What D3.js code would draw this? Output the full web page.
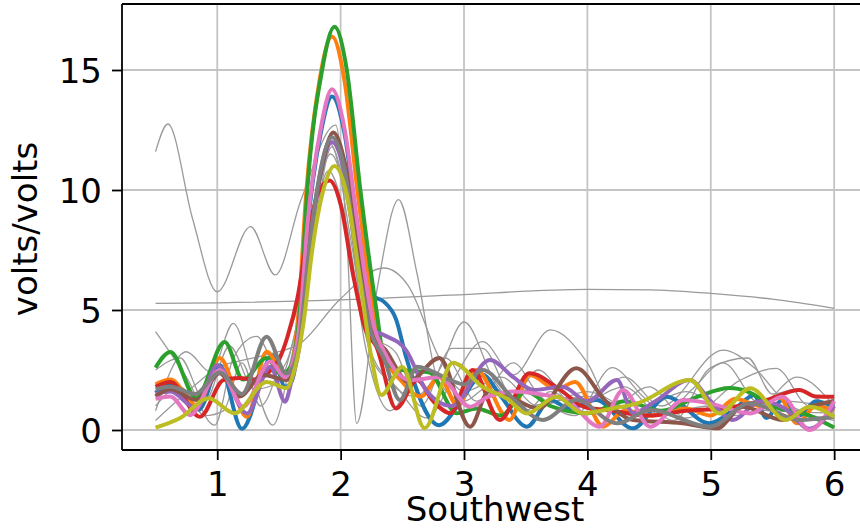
<!DOCTYPE html>
<html lang="en">
<head>
<meta charset="UTF-8">
<title>Southwest</title>
<script src="https://d3js.org/d3.v7.min.js"></script>
<style>
    body { margin: 0; background: #fff; }
    text { font-family: "DejaVu Sans", sans-serif; }
</style>
</head>
<body>
<div id="chart"></div>
<script>
    // tick values
    const xTicks = [1, 2, 3, 4, 5, 6];
    const yTicks = [0, 5, 10, 15];
    const xLabel = "Southwest";
    const yLabel = "volts/volts";

    // thin gray traces, [x, y] knots
    const thin1 = [[0.5,11.6],[0.6,12.75],[0.8,8.8],[1.0,5.76],[1.27,8.47],[1.47,6.46],[1.68,9.6],[1.96,12.7],[2.05,8.0],[2.13,0.28],[2.3,6.0],[2.47,9.6],[2.62,6.5],[2.79,2.08],[3.0,1.2],[3.2,1.8],[3.5,1.0],[4.0,1.4],[4.5,0.6],[5.0,1.0],[5.5,0.8],[6.0,0.7]];
    const thin2 = [[0.5,5.28],[1.0,5.3],[2.0,5.42],[2.89,5.62],[4.0,5.86],[4.5,5.84],[5.0,5.69],[5.5,5.45],[6.0,5.07]];
    const thin3 = [[0.5,0.4],[0.85,2.0],[1.0,2.6],[1.2,2.9],[1.45,3.2],[1.67,3.6],[1.99,5.42],[2.35,6.75],[2.55,6.0],[2.8,3.0],[3.0,1.6],[3.3,2.2],[3.6,1.0],[4.0,1.6],[4.4,0.8],[4.8,1.6],[5.2,0.6],[5.6,1.2],[6.0,0.9]];
    const thin4 = [[0.5,4.1],[0.75,2.2],[0.98,0.2],[1.13,3.0],[1.32,3.9],[1.5,2.5],[1.62,3.8],[1.75,8.0],[1.92,11.5],[2.05,9.5],[2.2,4.0],[2.4,2.0],[2.6,1.4],[2.8,2.5],[3.0,4.5],[3.25,2.0],[3.5,0.8],[3.7,1.6],[3.95,1.0],[4.3,2.2],[4.6,1.0],[5.1,3.33],[5.35,2.6],[5.6,1.2],[6.0,0.4]];
    const thin5 = [[0.5,0.8],[0.75,3.26],[0.95,2.4],[1.13,4.44],[1.3,2.0],[1.45,0.2],[1.6,3.0],[1.75,7.0],[1.93,11.8],[2.08,8.0],[2.25,3.0],[2.45,1.8],[2.7,0.5],[2.9,2.0],[3.15,3.68],[3.4,2.3],[3.7,4.17],[4.0,2.8],[4.2,1.0],[4.5,1.8],[4.8,0.5],[5.24,2.08],[5.53,2.57],[5.8,1.0],[6.0,1.3]];
    const thin6 = [[0.5,1.0],[0.7,1.8],[0.9,0.6],[1.05,0.8],[1.2,2.8],[1.35,1.0],[1.55,3.5],[1.7,6.0],[1.9,10.8],[2.05,8.5],[2.2,3.5],[2.4,0.8],[2.6,2.2],[2.85,3.0],[3.1,1.2],[3.4,2.8],[3.6,1.5],[3.9,0.6],[4.2,2.6],[4.45,1.4],[4.7,0.4],[5.0,2.6],[5.3,3.0],[5.5,1.5],[5.7,1.7],[6.0,0.6]];
    const thin7 = [[0.5,2.5],[0.7,3.0],[0.9,1.2],[1.1,3.5],[1.3,1.7],[1.5,2.0],[1.65,4.5],[1.9,12.0],[2.08,9.0],[2.25,4.0],[2.45,3.2],[2.65,1.0],[2.9,3.4],[3.15,3.4],[3.4,1.4],[3.6,2.5],[3.9,1.0],[4.3,1.8],[4.6,0.6],[4.85,1.7],[5.1,2.8],[5.4,1.1],[5.7,2.2],[6.0,1.0]];

    // thick coloured traces
    const blue = [[0.5,1.55],[0.62,1.9],[0.85,0.85],[1.02,2.7],[1.2,0.05],[1.45,3.1],[1.55,1.8],[1.6,2.0],[1.67,4.2],[1.73,8.3],[1.84,12.4],[1.93,13.9],[2.03,12.4],[2.14,8.3],[2.26,5.6],[2.35,5.35],[2.45,4.6],[2.53,3.05],[2.8,0.2],[2.95,1.0],[3.15,2.3],[3.3,1.4],[3.51,0.14],[3.7,1.25],[3.85,0.9],[4.07,1.25],[4.37,0.07],[4.64,1.39],[4.99,0.28],[5.2,0.9],[5.35,1.45],[5.45,0.5],[5.58,1.25],[5.72,0.6],[5.85,1.2],[6.0,0.97]];
    const orange = [[0.5,1.9],[0.62,2.1],[0.84,1.0],[1.02,3.0],[1.24,0.55],[1.4,3.26],[1.55,2.3],[1.59,2.4],[1.66,5.0],[1.72,9.8],[1.83,14.6],[1.93,16.4],[2.03,14.6],[2.14,9.8],[2.27,4.9],[2.35,3.2],[2.5,2.0],[2.65,1.4],[2.8,2.2],[2.95,1.0],[3.1,2.5],[3.37,0.42],[3.53,2.3],[3.75,1.7],[3.9,2.0],[4.13,0.14],[4.3,0.8],[4.5,0.6],[4.8,0.9],[5.0,0.6],[5.2,1.3],[5.4,1.0],[5.55,1.4],[5.7,0.28],[5.85,1.0],[6.0,0.8]];
    const green = [[0.5,2.6],[0.62,3.25],[0.83,1.33],[1.06,3.67],[1.21,2.1],[1.4,3.0],[1.52,2.3],[1.6,2.7],[1.67,5.0],[1.73,10.0],[1.85,15.0],[1.95,16.8],[2.05,15.0],[2.16,10.0],[2.29,5.0],[2.36,2.8],[2.5,2.5],[2.72,2.4],[2.94,0.7],[3.1,0.9],[3.3,0.6],[3.5,1.6],[3.7,1.0],[4.0,0.7],[4.3,1.2],[4.6,0.8],[4.9,1.4],[5.15,1.75],[5.3,1.6],[5.5,1.0],[5.8,0.6],[6.0,0.1]];
    const red = [[0.5,1.8],[0.62,2.0],[0.86,0.55],[1.05,2.08],[1.18,2.17],[1.3,2.1],[1.51,3.05],[1.57,3.9],[1.65,5.5],[1.73,8.0],[1.82,9.9],[1.91,10.4],[2.0,9.4],[2.1,6.5],[2.2,4.2],[2.29,3.47],[2.45,0.9],[2.62,2.08],[2.75,1.2],[2.89,0.7],[3.07,2.5],[3.29,0.42],[3.53,2.36],[3.78,1.67],[3.97,0.97],[4.2,0.8],[4.5,0.6],[4.8,0.8],[5.1,0.9],[5.45,1.25],[5.72,1.67],[5.85,1.4],[6.0,1.39]];
    const purple = [[0.5,1.5],[0.62,1.6],[0.83,0.9],[1.0,2.7],[1.24,0.69],[1.43,2.64],[1.55,1.18],[1.6,2.0],[1.67,3.6],[1.74,7.2],[1.84,10.7],[1.93,12.0],[2.03,10.7],[2.13,7.2],[2.25,4.2],[2.35,3.96],[2.53,3.33],[2.7,1.6],[2.9,1.0],[3.21,2.92],[3.4,2.2],[3.56,1.67],[3.8,1.8],[4.0,1.2],[4.24,2.08],[4.37,0.7],[4.55,1.2],[4.83,2.08],[5.0,1.2],[5.18,0.42],[5.4,1.2],[5.6,0.9],[5.8,0.05],[6.0,1.0]];
    const brown = [[0.5,1.4],[0.62,1.7],[0.83,1.25],[1.02,2.36],[1.18,1.4],[1.37,2.3],[1.56,2.08],[1.6,2.3],[1.67,4.0],[1.74,7.5],[1.85,11.0],[1.94,12.4],[2.04,11.0],[2.15,7.5],[2.27,4.0],[2.37,3.3],[2.55,2.0],[2.8,3.0],[3.05,0.14],[3.2,1.6],[3.4,1.3],[3.6,0.9],[3.91,2.57],[4.15,1.2],[4.37,0.42],[4.77,0.28],[5.05,0.07],[5.26,0.97],[5.58,0.42],[5.8,0.97],[6.0,1.2]];
    const pink = [[0.5,1.3],[0.62,1.4],[0.78,0.62],[1.02,2.5],[1.21,0.97],[1.43,2.85],[1.55,2.2],[1.6,2.6],[1.67,4.5],[1.73,8.5],[1.84,12.6],[1.93,14.2],[2.03,12.6],[2.14,8.5],[2.27,4.3],[2.35,3.3],[2.56,2.08],[2.8,2.2],[3.05,0.97],[3.2,1.4],[3.4,1.6],[3.6,1.5],[3.83,1.25],[4.1,0.14],[4.29,1.67],[4.51,0.14],[4.78,1.25],[5.0,1.1],[5.32,0.69],[5.58,1.39],[5.8,0.0],[6.0,1.2]];
    const gray = [[0.5,1.7],[0.62,1.8],[0.82,1.5],[1.02,2.4],[1.2,1.5],[1.4,3.89],[1.56,2.36],[1.6,2.5],[1.67,3.8],[1.74,7.3],[1.84,10.9],[1.93,12.2],[2.03,10.9],[2.13,7.3],[2.25,4.0],[2.35,3.0],[2.48,1.25],[2.62,2.64],[2.89,2.08],[3.0,1.9],[3.15,2.5],[3.4,1.3],[3.64,0.42],[3.91,1.25],[4.24,0.28],[4.51,0.83],[4.99,0.14],[5.32,1.11],[5.72,0.42],[6.0,0.55]];
    const olive = [[0.5,0.1],[0.7,0.5],[0.93,1.32],[1.14,0.7],[1.4,2.0],[1.56,1.75],[1.62,2.4],[1.7,4.5],[1.77,7.5],[1.86,10.0],[1.95,11.0],[2.05,9.8],[2.15,6.5],[2.25,3.0],[2.33,1.46],[2.5,2.63],[2.68,0.08],[2.91,2.8],[3.15,1.8],[3.35,1.3],[3.51,0.69],[3.75,1.39],[3.96,0.7],[4.2,0.9],[4.4,1.1],[4.83,2.08],[5.07,0.69],[5.32,1.74],[5.61,0.42],[5.8,0.97],[6.0,0.55]];

    const thinSeries = [thin1, thin2, thin3, thin4, thin5, thin6, thin7];
    const thickSeries = [
        { c: "#1f77b4", d: blue },
        { c: "#ff7f0e", d: orange },
        { c: "#2ca02c", d: green },
        { c: "#d62728", d: red },
        { c: "#9467bd", d: purple },
        { c: "#8c564b", d: brown },
        { c: "#e377c2", d: pink },
        { c: "#7f7f7f", d: gray },
        { c: "#bcbd22", d: olive }
    ];

    const W = 860, H = 529;
    const pLeft = 122, pTop = 4, pBottom = 450, pRight = 865;

    const svg = d3.select("#chart").append("svg")
        .attr("width", W).attr("height", H);

    const x = d3.scaleLinear().domain([0.228, 6.25]).range([pLeft, pRight]);
    const y = d3.scaleLinear().domain([-0.833, 17.75]).range([pBottom, pTop]);

    svg.append("clipPath").attr("id", "plot")
        .append("rect").attr("x", pLeft).attr("y", pTop)
        .attr("width", pRight - pLeft).attr("height", pBottom - pTop);

    // grid
    const grid = svg.append("g").attr("stroke", "#c4c4c4").attr("stroke-width", 1.8);
    xTicks.forEach(t => grid.append("line")
        .attr("x1", x(t)).attr("x2", x(t)).attr("y1", pTop).attr("y2", pBottom));
    yTicks.forEach(t => grid.append("line")
        .attr("x1", pLeft).attr("x2", pRight).attr("y1", y(t)).attr("y2", y(t)));

    const line = d3.line()
        .x(d => x(d[0]))
        .y(d => y(d[1]))
        .curve(d3.curveMonotoneX);

    const plot = svg.append("g").attr("clip-path", "url(#plot)");

    thinSeries.forEach(s => {
        plot.append("path").datum(s)
            .attr("fill", "none")
            .attr("stroke", "#9a9a9a")
            .attr("stroke-width", 1.3)
            .attr("d", line);
    });

    thickSeries.forEach(s => {
        plot.append("path").datum(s.d)
            .attr("fill", "none")
            .attr("stroke", s.c)
            .attr("stroke-width", 4)
            .attr("stroke-linejoin", "round")
            .attr("d", line);
    });

    // axes
    const xAxis = svg.append("g")
        .attr("transform", `translate(0,${pBottom})`)
        .call(d3.axisBottom(x).tickValues(xTicks).tickFormat(d3.format("d")).tickSize(10).tickPadding(12));
    const yAxis = svg.append("g")
        .attr("transform", `translate(${pLeft},0)`)
        .call(d3.axisLeft(y).tickValues(yTicks).tickFormat(d3.format("d")).tickSize(10).tickPadding(10));

    [xAxis, yAxis].forEach(a => {
        a.select(".domain").remove();
        a.selectAll(".tick line").attr("stroke", "#000").attr("stroke-width", 1.8);
        a.selectAll(".tick text")
            .attr("fill", "#000")
            .style("font-size", "34px")
            .style("font-family", "'DejaVu Sans', sans-serif");
    });
    yAxis.selectAll(".tick text").attr("dy", "0.36em");

    // spines
    const spines = svg.append("g").attr("stroke", "#000").attr("stroke-width", 1.8);
    spines.append("line").attr("x1", pLeft).attr("x2", pLeft).attr("y1", pTop).attr("y2", pBottom);
    spines.append("line").attr("x1", pLeft).attr("x2", pRight).attr("y1", pBottom).attr("y2", pBottom);
    spines.append("line").attr("x1", pLeft).attr("x2", pRight).attr("y1", pTop).attr("y2", pTop).attr("stroke-width", 2.2);

    // labels
    svg.append("text")
        .attr("x", 495).attr("y", 521)
        .attr("text-anchor", "middle")
        .style("font-size", "34px")
        .text(xLabel);

    svg.append("text")
        .attr("transform", "translate(37,229) rotate(-90)")
        .attr("text-anchor", "middle")
        .style("font-size", "34px")
        .text(yLabel);
</script>
</body>
</html>
